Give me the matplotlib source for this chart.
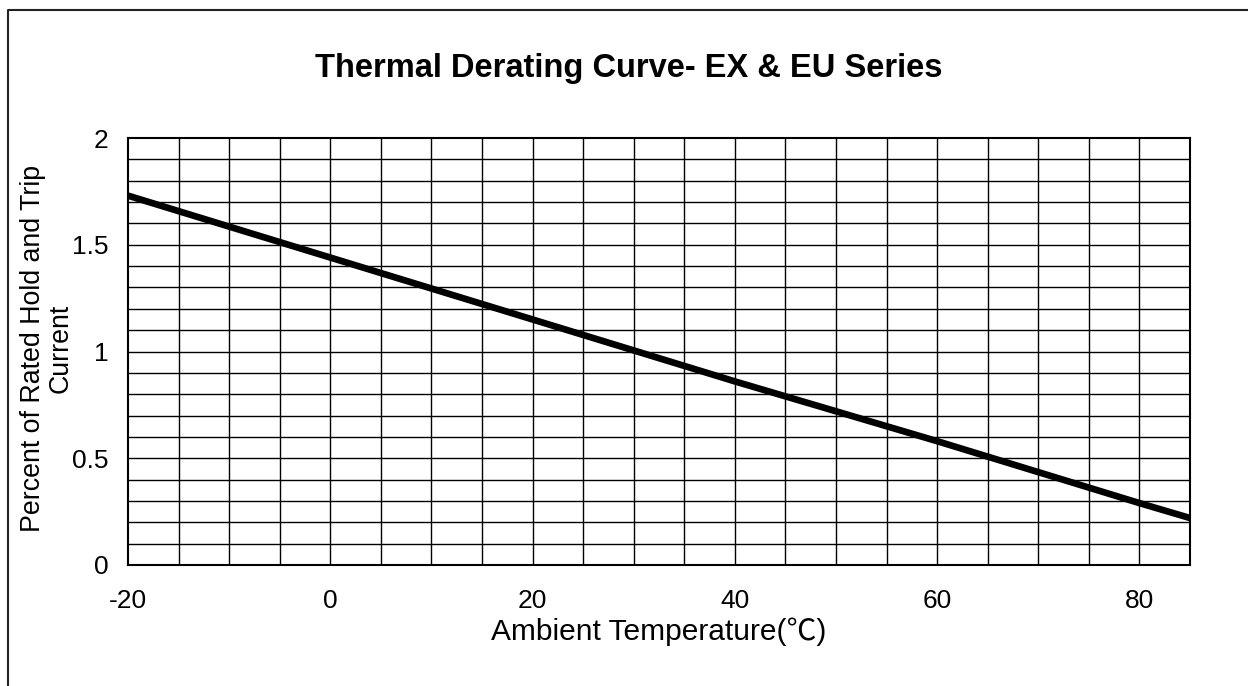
import matplotlib
matplotlib.use("Agg")
import matplotlib.pyplot as plt
from matplotlib.lines import Line2D

plt.rcParams['font.family'] = ['Liberation Sans', 'Noto Sans CJK SC', 'DejaVu Sans']

# data
temps = [-20, 0, 20, 40, 60, 80, 85]
ratio = [1.73, 1.44, 1.15, 0.86, 0.58, 0.29, 0.22]
x_ticks = [-20, 0, 20, 40, 60, 80]
y_ticks = [0, 0.5, 1, 1.5, 2]
y_tick_labels = ['0', '0.5', '1', '1.5', '2']

W, H = 1248, 686
fig = plt.figure(figsize=(W / 100, H / 100), dpi=100)

# outer frame (left and top edges visible)
fx = 8 / W
fy = 1 - 10 / H
fig.add_artist(Line2D([fx, fx, 1.0], [0.0, fy, fy], color='#222222', lw=1.5,
                      transform=fig.transFigure))

ax = fig.add_axes([128 / W, 1 - 565 / H, (1190 - 128) / W, (565 - 138) / H])

ax.set_xlim(-20, 85)
ax.set_ylim(0, 2)

# grid every 5 degrees and every 0.1
for gx in range(-15, 85, 5):
    ax.axvline(gx, color='black', lw=1.0, zorder=1)
for i in range(1, 20):
    ax.axhline(i * 0.1, color='black', lw=1.0, zorder=1)

ax.plot(temps, ratio, color='black', lw=4.8, solid_capstyle='butt', zorder=3)

ax.set_xticks(x_ticks)
ax.set_xticklabels([str(t) for t in x_ticks])
ax.set_yticks(y_ticks)
ax.set_yticklabels(y_tick_labels)
ax.tick_params(length=0, labelsize=19)
ax.tick_params(axis='y', pad=14)
ax.tick_params(axis='x', pad=17)

for s in ax.spines.values():
    s.set_color('black')
    s.set_linewidth(1.5)

fig.text(659 / W, 1 - 632 / H, 'Ambient Temperature(℃)', fontsize=21.5,
         ha='center', va='center')
fig.text(47 / W, 1 - 348 / H, 'Percent of Rated Hold and Trip\nCurrent',
         fontsize=19.3, rotation=90, ha='center', va='center',
         multialignment='center', linespacing=1.05)

fig.text(629 / W, 1 - 68 / H, 'Thermal Derating Curve- EX & EU Series',
         fontsize=23.5, fontweight='bold', ha='center', va='center')

fig.savefig('out.png', dpi=100)
